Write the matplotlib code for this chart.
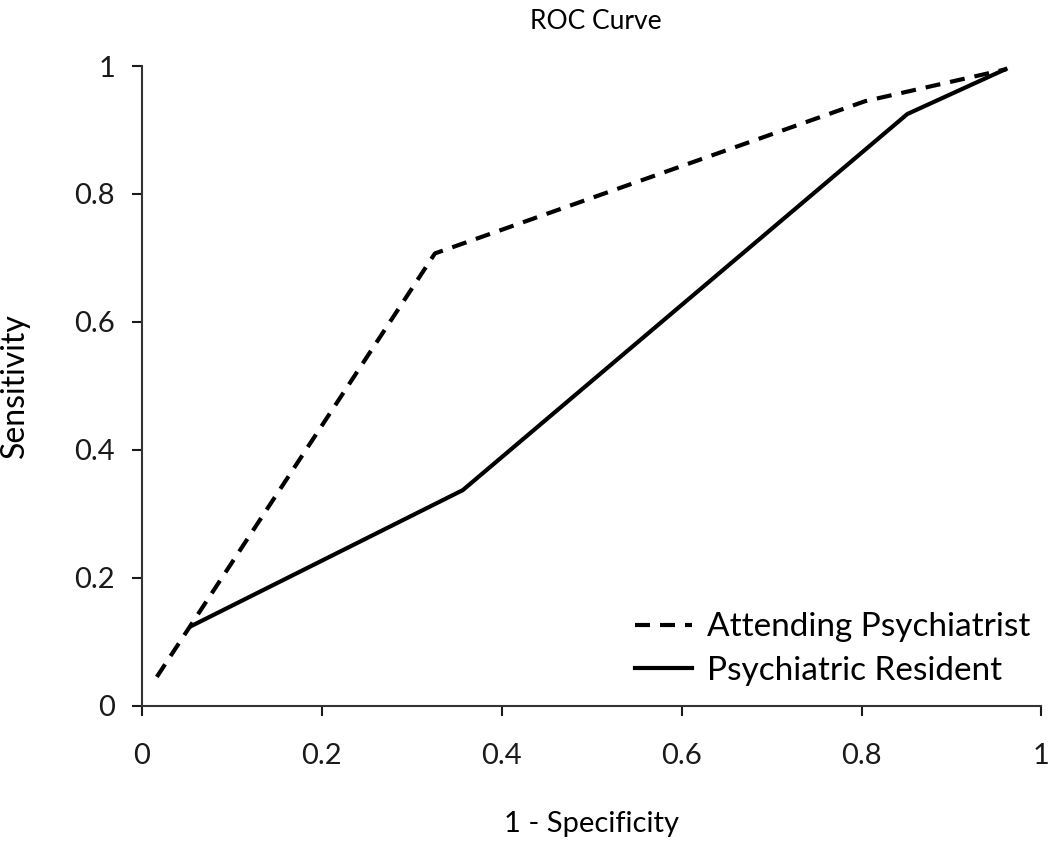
import numpy as np
import matplotlib.pyplot as plt

plt.rcParams['font.family'] = ['Lato', 'DejaVu Sans']

# ROC points (1 - specificity, sensitivity)
attending_fpr = [0.017, 0.326, 0.804, 0.961]
attending_tpr = [0.045, 0.707, 0.945, 0.995]
resident_fpr = [0.056, 0.357, 0.851, 0.960]
resident_tpr = [0.125, 0.337, 0.925, 0.995]

ticks = [0, 0.2, 0.4, 0.6, 0.8, 1]
tick_labels = ['0', '0.2', '0.4', '0.6', '0.8', '1']

fig = plt.figure(figsize=(10.5, 8.43), dpi=100)
ax = fig.add_axes([0.1348, 0.1629, 0.8571, 0.7588])

ax.plot(attending_fpr, attending_tpr, color='black', lw=3, linestyle=(0, (3.6, 2.4)),
        label='Attending Psychiatrist')
ax.plot(resident_fpr, resident_tpr, color='black', lw=3, label='Psychiatric Resident')

ax.set_xlim(0, 1)
ax.set_ylim(0, 1)
ax.set_xticks(ticks)
ax.set_xticklabels(tick_labels)
ax.set_yticks(ticks)
ax.set_yticklabels(tick_labels)
ax.tick_params(direction='out', length=7, width=1.5, labelsize=21, pad=20, colors='#1a1a1a')
ax.tick_params(axis='y', pad=12)
for side in ['top', 'right']:
    ax.spines[side].set_visible(False)
for side in ['left', 'bottom']:
    ax.spines[side].set_linewidth(1.5)
    ax.spines[side].set_color('#333333')

ax.set_xlabel('1 - Specificity', fontsize=21, labelpad=30)
ax.set_ylabel('Sensitivity', fontsize=23, labelpad=32)
fig.text(0.567, 0.975, 'ROC Curve', ha='center', va='center', fontsize=19)

ax.legend(loc='lower right', bbox_to_anchor=(1.01, 0.0), frameon=False, fontsize=24,
          handlelength=1.7, handletextpad=0.45, labelspacing=0.4, borderaxespad=0.2)

fig.savefig('out.png', dpi=100)
